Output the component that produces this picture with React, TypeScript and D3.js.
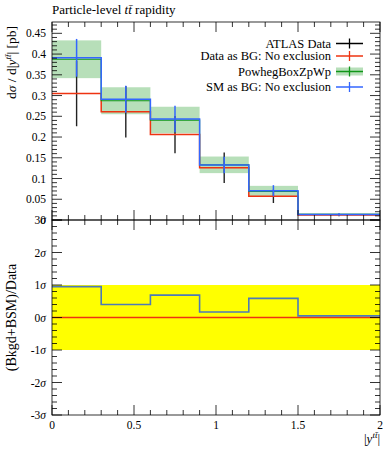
import * as d3 from 'd3'
import React from 'react'

// bin edges of |y^tt|
const binEdges = [0, 0.3, 0.6, 0.9, 1.2, 1.5, 2.0]
// ATLAS data
const atlasValues = [0.305, 0.261, 0.206, 0.126, 0.057, 0.012]
const atlasErrors = [0.079, 0.062, 0.045, 0.037, 0.016, 0.003]
// Data as BG: No exclusion
const dataBgValues = [0.305, 0.261, 0.206, 0.126, 0.057, 0.012]
// PowhegBoxZpWp
const powhegValues = [0.3875, 0.2875, 0.241, 0.133, 0.069, 0.0135]
const powhegErrors = [0.0455, 0.0325, 0.032, 0.02, 0.0133, 0.0025]
// SM as BG: No exclusion
const smValues = [0.391, 0.291, 0.2435, 0.1326, 0.0707, 0.0135]
// ratio panel, in sigma
const ratioSm = [0.95, 0.4, 0.69, 0.17, 0.59, 0.05]
const ratioDataBg = [0, 0, 0, 0, 0, 0]

const yTickLabels = ['0.05', '0.1', '0.15', '0.2', '0.25', '0.3', '0.35', '0.4', '0.45']
const sigmaTicks = [-3, -2, -1, 0, 1, 2, 3]
const xTickLabels = ['0', '0.5', '1', '1.5', '2']

const W = 392
const H = 450
const left = 52
const right = 380
const top = 22
const mid = 220
const bottom = 415

const RED = '#EE3311'
const BLUE = '#3366FF'
const GREEN = '#109618'
const FONT = '"Liberation Serif", "DejaVu Serif", serif'

const x = d3.scaleLinear().domain([0, 2]).range([left, right])
const y = d3.scaleLinear().domain([0, 0.4773]).range([mid, top])
const yr = d3.scaleLinear().domain([-3, 3]).range([bottom, mid])

const stepLine = (vals: number[], sy: d3.ScaleLinear<number, number>) => {
  const pts: [number, number][] = vals.map((v, i) => [binEdges[i], v])
  pts.push([binEdges[binEdges.length - 1], vals[vals.length - 1]])
  return (
    d3
      .line<[number, number]>()
      .x(d => x(d[0]))
      .y(d => sy(d[1]))
      .curve(d3.curveStepAfter)(pts) || ''
  )
}

const center = (i: number) => (binEdges[i] + binEdges[i + 1]) / 2

// tick helpers
const xMinor = d3.range(0, 2.0001, 0.1)
const xMajor = xTickLabels.map(Number)
const yMinor = d3.range(0, 0.4701, 0.01)
const yMajor = yTickLabels.map(Number)
const rMinor = d3.range(-3, 3.0001, 0.2)

const App: React.FC = () => {
  const ticks: React.ReactNode[] = []
  // x ticks on top of upper, both sides of divider, bottom of ratio
  xMinor.forEach((v, i) => {
    const isMajor = xMajor.some(m => Math.abs(m - v) < 1e-6)
    const len = isMajor ? 10 : 5
    const px = x(v)
    ticks.push(<line key={`xt${i}`} x1={px} x2={px} y1={top} y2={top + len} />)
    ticks.push(<line key={`xm1${i}`} x1={px} x2={px} y1={mid} y2={mid - len} />)
    ticks.push(<line key={`xm2${i}`} x1={px} x2={px} y1={mid} y2={mid + len} />)
    ticks.push(<line key={`xb${i}`} x1={px} x2={px} y1={bottom} y2={bottom - len} />)
  })
  yMinor.forEach((v, i) => {
    const isMajor = yMajor.some(m => Math.abs(m - v) < 1e-6) || Math.abs(v) < 1e-6
    const len = isMajor ? 10 : 5
    const py = y(v)
    ticks.push(<line key={`yl${i}`} x1={left} x2={left + len} y1={py} y2={py} />)
    ticks.push(<line key={`yr${i}`} x1={right} x2={right - len} y1={py} y2={py} />)
  })
  rMinor.forEach((v, i) => {
    const isMajor = Math.abs(v - Math.round(v)) < 1e-6
    const len = isMajor ? 10 : 5
    const py = yr(v)
    ticks.push(<line key={`rl${i}`} x1={left} x2={left + len} y1={py} y2={py} />)
    ticks.push(<line key={`rr${i}`} x1={right} x2={right - len} y1={py} y2={py} />)
  })

  const legend = [
    { label: 'ATLAS Data', color: '#000', band: false, y: 43.5 },
    { label: 'Data as BG: No exclusion', color: RED, band: false, y: 56 },
    { label: 'PowhegBoxZpWp', color: GREEN, band: true, y: 71.5 },
    { label: 'SM as BG: No exclusion', color: BLUE, band: false, y: 87 },
  ]

  return (
    <div style={{ position: 'absolute', left: 0, top: 0 }}>
      <svg width={W} height={H} style={{ display: 'block', background: '#fff' }}>
        <text x={left} y={14} fontFamily={FONT} fontSize={13} fill="#000">
          Particle-level <tspan fontStyle="italic">t</tspan>
          <tspan fontStyle="italic">t̄</tspan> rapidity
        </text>

        {/* ratio yellow band */}
        <rect x={x(0)} y={yr(1)} width={x(2) - x(0)} height={yr(-1) - yr(1)} fill="#ffff00" />

        {/* Powheg band */}
        {powhegValues.map((v, i) => (
          <rect
            key={`band${i}`}
            x={x(binEdges[i])}
            y={y(v + powhegErrors[i])}
            width={x(binEdges[i + 1]) - x(binEdges[i])}
            height={y(v - powhegErrors[i]) - y(v + powhegErrors[i])}
            fill={GREEN}
            fillOpacity={0.3}
          />
        ))}

        {/* ATLAS data error bars */}
        {atlasValues.map((v, i) => (
          <line
            key={`err${i}`}
            x1={x(center(i))}
            x2={x(center(i))}
            y1={y(v + atlasErrors[i])}
            y2={y(v - atlasErrors[i])}
            stroke="#222"
            strokeWidth={1.4}
          />
        ))}

        <path d={stepLine(dataBgValues, y)} fill="none" stroke={RED} strokeWidth={1.5} />
        <path d={stepLine(powhegValues, y)} fill="none" stroke={GREEN} strokeWidth={1.2} />
        <path d={stepLine(smValues, y)} fill="none" stroke={BLUE} strokeWidth={1.5} />
        {smValues.map((v, i) => (
          <line
            key={`smerr${i}`}
            x1={x(center(i))}
            x2={x(center(i))}
            y1={y(v + powhegErrors[i])}
            y2={y(v - powhegErrors[i])}
            stroke={BLUE}
            strokeWidth={1.5}
          />
        ))}

        {/* ratio lines */}
        <path d={stepLine(ratioDataBg, yr)} fill="none" stroke={RED} strokeWidth={1.5} />
        <path d={stepLine(ratioSm, yr)} fill="none" stroke="#4d7ab8" strokeWidth={1.6} />

        {/* frames */}
        <g stroke="#000" strokeWidth={0.8} fill="none">
          <rect x={left} y={top} width={right - left} height={mid - top} />
          <rect x={left} y={mid} width={right - left} height={bottom - mid} />
          {ticks}
        </g>

        {/* tick labels */}
        <g fontFamily={FONT} fontSize={11.5} fill="#000" textAnchor="end">
          {yTickLabels.map((t, i) => (
            <text key={`ytl${i}`} x={left - 6} y={y(yMajor[i]) + 4}>
              {t}
            </text>
          ))}
          <text x={left - 6} y={y(0) + 4}>
            0
          </text>
          {sigmaTicks.map(s => (
            <text key={`s${s}`} x={left - 6} y={yr(s) + 4}>
              {s}
              <tspan fontStyle="italic">σ</tspan>
            </text>
          ))}
        </g>
        <g fontFamily={FONT} fontSize={11.5} fill="#000" textAnchor="middle">
          {xTickLabels.map((t, i) => (
            <text key={`xtl${i}`} x={x(xMajor[i])} y={bottom + 14}>
              {t}
            </text>
          ))}
        </g>

        {/* axis labels */}
        <text
          transform={`translate(16, ${top + 4}) rotate(-90)`}
          textAnchor="end"
          fontFamily={FONT}
          fontSize={13.5}
        >
          d<tspan fontStyle="italic">σ</tspan> / d|<tspan fontStyle="italic">y</tspan>
          <tspan fontSize={9} dy={-5} fontStyle="italic">
            tt̄
          </tspan>
          <tspan dy={5}>| [pb]</tspan>
        </text>
        <text
          transform={`translate(16, ${(mid + bottom) / 2}) rotate(-90)`}
          textAnchor="middle"
          fontFamily={FONT}
          fontSize={14}
        >
          (Bkgd+BSM)/Data
        </text>
        <text x={right} y={443} textAnchor="end" fontFamily={FONT} fontSize={13}>
          |<tspan fontStyle="italic">y</tspan>
          <tspan fontSize={9} dy={-5} fontStyle="italic">
            tt̄
          </tspan>
          <tspan dy={5}>|</tspan>
        </text>

        {/* legend */}
        <g fontFamily={FONT} fontSize={12.5}>
          {legend.map(l => (
            <g key={l.label}>
              <text x={331} y={l.y + 4} textAnchor="end">
                {l.label}
              </text>
              {l.band && (
                <rect x={336} y={l.y - 4} width={27} height={8} fill={GREEN} fillOpacity={0.3} />
              )}
              <line x1={336} x2={363} y1={l.y} y2={l.y} stroke={l.color} strokeWidth={1.5} />
              <line x1={349.5} x2={349.5} y1={l.y - 5} y2={l.y + 5} stroke={l.color} strokeWidth={1.3} />
            </g>
          ))}
        </g>
      </svg>
    </div>
  )
}

export default App
